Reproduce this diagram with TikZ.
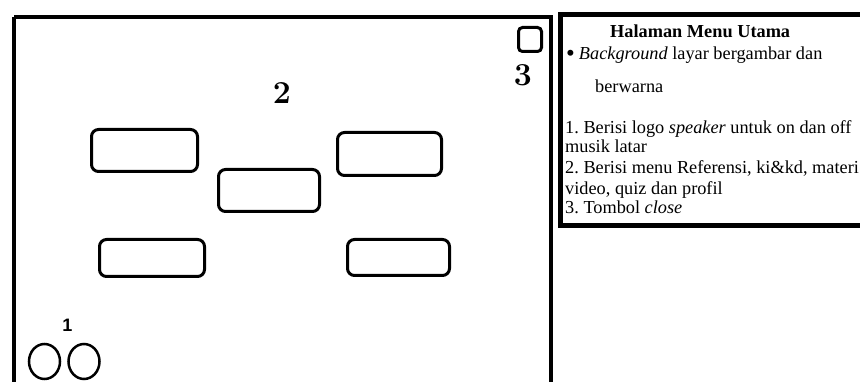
\documentclass[tikz,border=0pt]{standalone}
\usepackage{fontspec}
\usetikzlibrary{shapes.geometric}
\newfontfamily\tnr{Liberation Serif}
\newfontfamily\arl{Liberation Sans}
\frenchspacing
\begin{document}
\begin{tikzpicture}[x=1pt,y=-1pt,
  btn/.style={draw,line width=3pt,rounded corners=7pt,inner sep=0pt},
  spk/.style={draw,line width=2.5pt,ellipse,minimum width=31pt,minimum height=35pt,inner sep=0pt},
  txt/.style={anchor=base west,inner sep=0pt,font=\tnr\fontsize{18.3}{20}\selectfont},
  big/.style={inner sep=0pt,font=\bfseries\fontsize{32}{32}\selectfont}]
\clip (0,0) rectangle (860,382);
\fill[white] (0,0) rectangle (860,382);
% main screen
\draw[line width=3.5pt] (14,17) -- (551,17) -- (551,400) (14,400) -- (14,17);
% info panel
\draw[line width=4.5pt] (560.5,14.5) rectangle (880,225.5);
% buttons
\node[btn,minimum width=106pt,minimum height=42pt] (b1) at (144.5,150.5) {};
\node[btn,minimum width=101pt,minimum height=42pt] (b2) at (269,190.5) {};
\node[btn,minimum width=104pt,minimum height=43pt] (b3) at (389.5,154) {};
\node[btn,minimum width=105pt,minimum height=37pt] (b4) at (152,258) {};
\node[btn,minimum width=102pt,minimum height=36pt] (b5) at (398.5,257.5) {};
% close
\node[btn,rounded corners=4pt,minimum width=23pt,minimum height=24pt] (cl) at (530,39.5) {};
% speaker circles
\node[spk] (c1) at (44.5,361.5) {};
\node[spk] (c2) at (84,361.5) {};
% labels
\node[inner sep=0pt,font=\arl\bfseries\fontsize{18}{18}\selectfont] (l1) at (67.5,325) {1};
\node[big] (l2) at (282,93) {2};
\node[big] (l3) at (523,75.5) {3};
% panel text
\node[txt,font=\tnr\bfseries\fontsize{18.3}{20}\selectfont] (t0) at (610,38) {Halaman Menu Utama};
\node[txt] (t1) at (566,60) {\raisebox{-1.5pt}{\fontsize{25}{20}\selectfont\textbullet}\hspace{4pt}\textit{Background} layar bergambar dan};
\node[txt] (t2) at (595,93) {berwarna};
\node[txt] (t3) at (565,133.5) {1. Berisi logo \textit{speaker} untuk on dan off};
\node[txt] (t4) at (565,153) {musik latar};
\node[txt] (t5) at (565,174) {2. Berisi menu Referensi, ki\&kd, materi};
\node[txt] (t6) at (565,194.5) {video, quiz dan profil};
\node[txt] (t7) at (565,214) {3. Tombol \textit{close}};
\end{tikzpicture}
\end{document}
